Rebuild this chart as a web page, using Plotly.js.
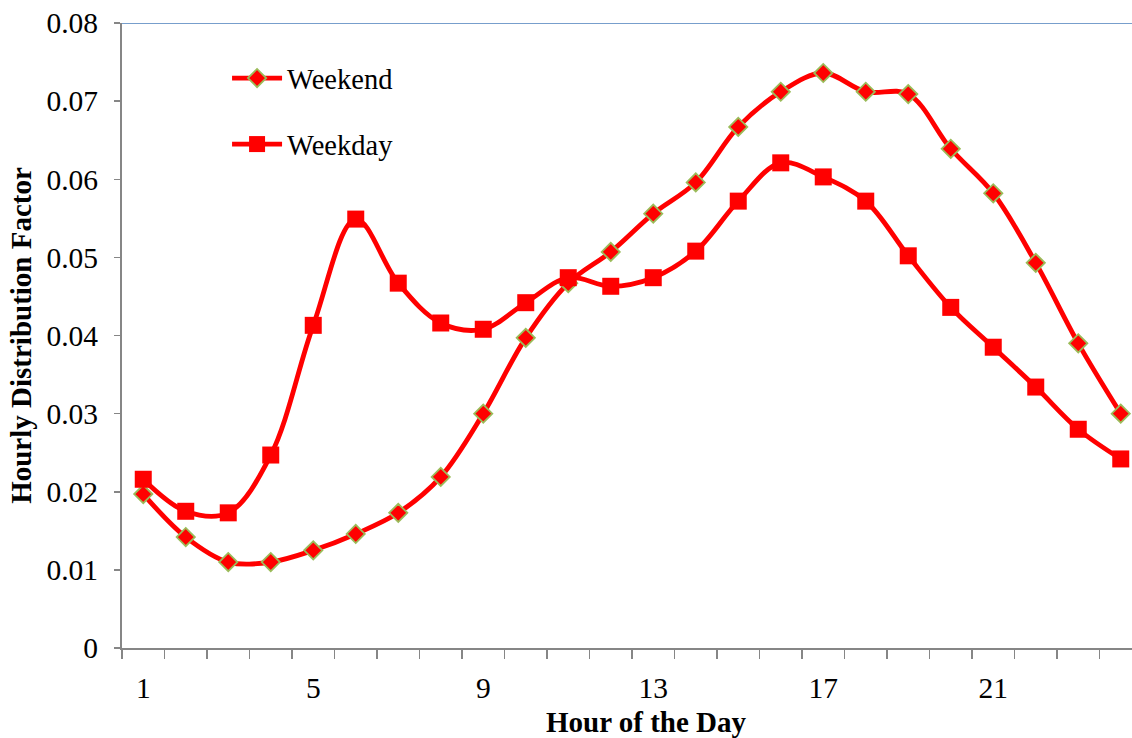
<!DOCTYPE html>
<html>
<head>
<meta charset="utf-8">
<script src="https://cdn.plot.ly/plotly-3.0.1.min.js"></script>
<style>
html,body{margin:0;padding:0;overflow:hidden;background:#fff;}
#chart{width:1150px;height:738px;}
</style>
</head>
<body>
<div id="chart"></div>
<script>
const hours = [1,2,3,4,5,6,7,8,9,10,11,12,13,14,15,16,17,18,19,20,21,22,23,24];
const weekend = [0.0197,0.0142,0.0110,0.0110,0.0125,0.0146,0.0173,0.0219,0.0300,0.0397,0.0467,0.0507,0.0556,0.0596,0.0667,0.0712,0.0736,0.0712,0.0709,0.0639,0.0582,0.0493,0.0390,0.0300];
const weekday = [0.0216,0.0175,0.0173,0.0247,0.0413,0.0549,0.0467,0.0416,0.0408,0.0442,0.0474,0.0463,0.0474,0.0508,0.0572,0.0621,0.0603,0.0572,0.0502,0.0436,0.0385,0.0334,0.0280,0.0242];
const xTickLabels = ['1','5','9','13','17','21'];
const xTickVals = [1,5,9,13,17,21];
const xTitle = 'Hour of the Day';
const yTitle = 'Hourly Distribution Factor';
const boundaries = [];
for (let i = 0; i <= hours.length; i++) boundaries.push(i + 0.5);

const serif = '"Liberation Serif", "Times New Roman", serif';
const traces = [
  {
    x: hours, y: weekend, name: 'Weekend', type: 'scatter', mode: 'lines+markers',
    legendgroup: 'a',
    line: {color: '#FF0000', width: 4.8, shape: 'spline', smoothing: 1},
    marker: {symbol: 'diamond', size: 14, color: '#FF0000', line: {color: '#9BBB59', width: 1.8}}
  },
  {
    x: hours, y: weekday, name: 'Weekday', type: 'scatter', mode: 'lines+markers',
    legendgroup: 'b',
    line: {color: '#FF0000', width: 4.8, shape: 'spline', smoothing: 1},
    marker: {symbol: 'square', size: 17, color: '#FF0000'}
  },
  {
    x: [1], y: [0], xaxis: 'x2', yaxis: 'y', mode: 'markers', showlegend: false,
    marker: {opacity: 0}, hoverinfo: 'skip'
  }
];

const layout = {
  width: 1150, height: 738,
  margin: {l: 122, r: 8, t: 23, b: 90},
  paper_bgcolor: '#fff', plot_bgcolor: '#fff',
  font: {family: serif, color: '#000', size: 29},
  showlegend: true,
  legend: {
    x: 0.103, y: 0.952, xanchor: 'left', yanchor: 'top',
    bgcolor: 'rgba(0,0,0,0)', font: {family: serif, size: 28.5, color: '#000'},
    tracegroupgap: 26, itemwidth: 50
  },
  xaxis: {
    range: [0.5, 24.5], tickmode: 'array', tickvals: boundaries,
    ticktext: boundaries.map(() => ''),
    ticks: 'outside', ticklen: 9, tickwidth: 1.5, tickcolor: '#868686',
    showline: true, linecolor: '#868686', linewidth: 2,
    showgrid: false, zeroline: false
  },
  xaxis2: {
    overlaying: 'x', anchor: 'y', side: 'bottom',
    range: [0.5, 24.5], tickmode: 'array', tickvals: xTickVals, ticktext: xTickLabels,
    ticks: '', showline: false, showgrid: false, zeroline: false,
    tickfont: {family: serif, size: 29.5, color: '#000'},
    ticklabelstandoff: 19
  },
  yaxis: {
    range: [0, 0.08], dtick: 0.01, tick0: 0,
    ticks: 'outside', ticklen: 6, tickwidth: 1.5, tickcolor: '#868686',
    showline: true, linecolor: '#868686', linewidth: 2,
    showgrid: false, zeroline: false,
    tickfont: {family: serif, size: 29.5, color: '#000'},
    ticklabelstandoff: 10,
    title: {text: yTitle, font: {family: serif, size: 29, color: '#000', weight: 'bold'}, standoff: 6}
  },
  annotations: [
    {text: xTitle, xref: 'paper', yref: 'paper', x: 0.5147, y: -0.1184,
     xanchor: 'center', yanchor: 'middle', showarrow: false,
     font: {family: serif, size: 29, color: '#000', weight: 'bold'}}
  ],
  shapes: [
    {type: 'line', xref: 'paper', yref: 'y', x0: 0, x1: 1, y0: 0.08, y1: 0.08, line: {color: '#4A7EBB', width: 1.5}}
  ]
};

Plotly.newPlot('chart', traces, layout, {displayModeBar: false, staticPlot: true});
</script>
</body>
</html>
